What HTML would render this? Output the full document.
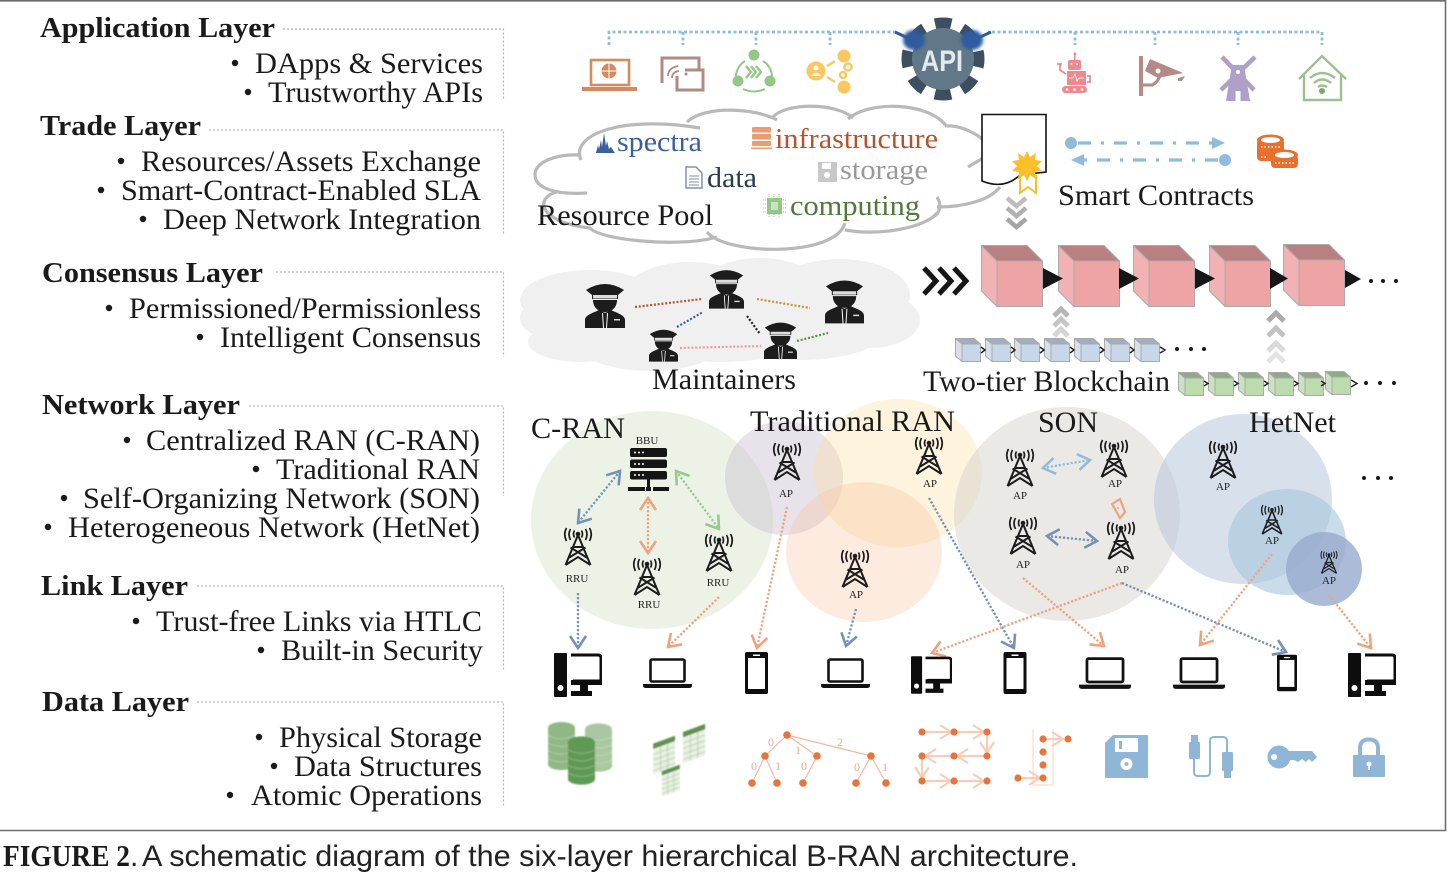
<!DOCTYPE html>
<html lang="en"><head><meta charset="utf-8"><title>Figure 2</title>
<style>
html,body{margin:0;padding:0;background:#fff}
svg{display:block}
text{font-family:"Liberation Serif",serif;fill:#1a1a1a}
.b{font-size:30px}
.t{font-size:29px;font-weight:bold}
.l{font-size:30px}
.s{font-size:11px;fill:#222}
</style></head><body>
<svg xmlns="http://www.w3.org/2000/svg" width="1456" height="872" viewBox="0 0 1456 872">
<defs>
<filter id="bl" x="-10%" y="-10%" width="120%" height="120%"><feGaussianBlur stdDeviation="0.8"/></filter>
<filter id="bl2" x="-30%" y="-30%" width="160%" height="160%"><feGaussianBlur stdDeviation="1.5"/></filter>
<marker id="mB" viewBox="0 0 16 19" refX="14" refY="9.5" markerWidth="16" markerHeight="19" markerUnits="userSpaceOnUse" orient="auto-start-reverse"><path d="M2 1.5L14 9.5L2 17.5" fill="none" stroke="#7392b5" stroke-width="2.6"/></marker>
<marker id="mO" viewBox="0 0 16 19" refX="14" refY="9.5" markerWidth="16" markerHeight="19" markerUnits="userSpaceOnUse" orient="auto-start-reverse"><path d="M2 1.5L14 9.5L2 17.5" fill="none" stroke="#f0a27c" stroke-width="2.6"/></marker>
<marker id="mG" viewBox="0 0 16 19" refX="14" refY="9.5" markerWidth="16" markerHeight="19" markerUnits="userSpaceOnUse" orient="auto-start-reverse"><path d="M2 1.5L14 9.5L2 17.5" fill="none" stroke="#95cb8c" stroke-width="2.6"/></marker>
<marker id="mL" viewBox="0 0 16 19" refX="14" refY="9.5" markerWidth="16" markerHeight="19" markerUnits="userSpaceOnUse" orient="auto-start-reverse"><path d="M2 1.5L14 9.5L2 17.5" fill="none" stroke="#8fbcdc" stroke-width="2.6"/></marker>
<marker id="mF" viewBox="0 0 14 16" refX="13" refY="8" markerWidth="14" markerHeight="16" markerUnits="userSpaceOnUse" orient="auto"><path d="M2 1L13 8L2 15" fill="none" stroke="#f8cdb6" stroke-width="2.2"/></marker>

<symbol id="tw" viewBox="0 0 28 38" overflow="visible"><g fill="none" stroke="#1c1c1c" stroke-width="2"><path d="M14 7L1.5 37M14 7L26.500 37M9.500 19H18.500M4.500 30L21.500 19.500M23.500 30L6.500 19.500M1.500 37L14 29L26.500 37"/><path stroke-width="1.700" d="M10.500 2.500Q8.500 6 10.500 9.500M17.500 2.500Q19.500 6 17.500 9.500M6.500 1Q3.500 6 6.500 12M21.500 1Q24.500 6 21.500 12M2.500 0Q-1 6 2.500 13M25.500 0Q29 6 25.500 13"/></g><circle cx="14" cy="6" r="2.300" fill="#1c1c1c"/></symbol>

<symbol id="of" viewBox="0 0 40 46"><path fill="#1c1c1c" d="M1 8Q20 -4 39 8L33 13V17H7V13Z"/><rect x="8" y="13" width="24" height="3.500" fill="#ddd"/><path fill="#1c1c1c" d="M8 18H32C32 26 26 30 20 30S8 26 8 18Z"/><path fill="#1c1c1c" d="M0 46V38C0 33 8 31 14 28L20 31L26 28C32 31 40 33 40 38V46Z"/><path d="M17.500 31L18.500 46M22.500 31L21.500 46" stroke="#fff" stroke-width="1"/><rect x="29" y="37" width="6" height="1.500" fill="#ddd"/></symbol>

<symbol id="pc" viewBox="0 0 48 44"><rect x="0" y="0" width="13" height="44" rx="1" fill="#0d0d0d"/><circle cx="6.500" cy="35" r="3" fill="#fff"/><path d="M17 2H44Q47 2 47 5V26Q47 28 45 28H19" fill="none" stroke="#0d0d0d" stroke-width="3"/><path d="M17 27H48V32H34V38H38V43H17V38H26V32H17Z" fill="#0d0d0d"/></symbol>

<symbol id="lp" viewBox="0 0 49 30"><rect x="7.500" y="1.500" width="34" height="22" rx="1.500" fill="#fff" fill-opacity=".9" stroke="#111" stroke-width="2.600"/><path d="M0 26H49V27.500Q49 30 46 30H3Q0 30 0 27.500Z" fill="#111"/></symbol>

<symbol id="ph" viewBox="0 0 23 42"><rect width="23" height="42" rx="2" fill="#0d0d0d"/><rect x="3" y="6" width="17" height="31" fill="#fff"/><rect x="8" y="2.500" width="7" height="1.500" fill="#fff"/></symbol>

<symbol id="bb" viewBox="0 0 41 43"><g fill="#151515"><rect x="2" y="0" width="37" height="9" rx="2"/><rect x="2" y="11.500" width="37" height="8.500" rx="2"/><rect x="2" y="23" width="37" height="8.500" rx="2"/><rect x="19" y="31" width="3" height="12"/><rect x="0" y="39" width="17" height="4"/><rect x="18" y="39" width="5" height="4"/><rect x="25" y="39" width="16" height="4"/></g><g fill="#fff"><circle cx="7" cy="4.500" r="1"/><circle cx="11" cy="4.500" r="1"/><circle cx="15" cy="4.500" r="1"/><circle cx="7" cy="16" r="1"/><circle cx="11" cy="16" r="1"/><circle cx="15" cy="16" r="1"/><circle cx="7" cy="27" r="1"/><circle cx="11" cy="27" r="1"/><circle cx="15" cy="27" r="1"/></g></symbol>

<symbol id="rc" viewBox="0 0 62 62"><path d="M.5 .5L16 16V61.500L.5 46Z" fill="#f2b1b2" stroke="#aaa"/><path d="M.5 .5H46L61.500 16H16Z" fill="#b98082" stroke="#aaa"/><rect x="16" y="16" width="45.500" height="45.500" fill="#eea3a5" stroke="#aaa"/></symbol>
<symbol id="bc" viewBox="0 0 26 25"><path d="M.5 1.500L7 7V24.500L.5 19Z" fill="#d5e0ec" stroke="#aaa"/><path d="M.5 1.500H19L25.500 7H7Z" fill="#9fafc0" stroke="#aaa"/><rect x="7" y="7" width="18.500" height="17.500" fill="#c7d6e8" stroke="#aaa"/></symbol>
<symbol id="gc" viewBox="0 0 26 25"><path d="M.5 1.500L7 7V24.500L.5 19Z" fill="#c9e2bf" stroke="#aaa"/><path d="M.5 1.500H19L25.500 7H7Z" fill="#8fa98a" stroke="#aaa"/><rect x="7" y="7" width="18.500" height="17.500" fill="#bcdcaf" stroke="#aaa"/></symbol>

<symbol id="cy" viewBox="0 0 28 50"><path d="M0 6V44C0 52 28 52 28 44V6Z" fill="currentColor"/><ellipse cx="14" cy="6" rx="14" ry="6" fill="currentColor"/><g fill="none" stroke="#fff" stroke-opacity=".28" stroke-width="1"><path d="M0 14Q14 21 28 14M0 22Q14 29 28 22M0 30Q14 37 28 30M0 38Q14 45 28 38"/></g></symbol>
<symbol id="tb" viewBox="0 0 26 44"><g transform="skewY(-20) translate(0,9.500)"><rect x="0" y="0" width="24" height="6" fill="#5f9150"/><rect x="0" y="6" width="24" height="28" fill="#e9f1e3"/><path d="M0 12H24M0 18H24M0 24H24M0 30H24M8 6V34M16 6V34" stroke="#b4cfa8" stroke-width="1"/></g></symbol>
</defs>

<rect width="1456" height="872" fill="#fff"/>
<path d="M0 .8H1445.500V830.500H0" fill="none" stroke="#6e6e6e" stroke-width="1.600"/>

<g fill="none" stroke="#b5b5b5" stroke-width="1.200" stroke-dasharray="2 2">
<path d="M283 29H503.500V100"/><path d="M209 130H503.500V235"/><path d="M276 272H503.500V357"/><path d="M249 406H503.500V496"/><path d="M197 586H503.500V670"/><path d="M197 702H503.500V807"/>
</g>

<text class="t" x="40" y="37" textLength="235" lengthAdjust="spacingAndGlyphs">Application Layer</text>
<text class="b" x="255" y="73" textLength="228" lengthAdjust="spacingAndGlyphs">DApps &amp; Services</text>
<text class="b" x="268" y="102" textLength="215" lengthAdjust="spacingAndGlyphs">Trustworthy APIs</text>
<text class="t" x="40" y="135" textLength="161" lengthAdjust="spacingAndGlyphs">Trade Layer</text>
<text class="b" x="141" y="171" textLength="340" lengthAdjust="spacingAndGlyphs">Resources/Assets Exchange</text>
<text class="b" x="121" y="200" textLength="360" lengthAdjust="spacingAndGlyphs">Smart-Contract-Enabled SLA</text>
<text class="b" x="163" y="229" textLength="318" lengthAdjust="spacingAndGlyphs">Deep Network Integration</text>
<text class="t" x="42" y="282" textLength="221" lengthAdjust="spacingAndGlyphs">Consensus Layer</text>
<text class="b" x="129" y="318" textLength="352" lengthAdjust="spacingAndGlyphs">Permissioned/Permissionless</text>
<text class="b" x="220" y="347" textLength="261" lengthAdjust="spacingAndGlyphs">Intelligent Consensus</text>
<text class="t" x="42" y="414" textLength="198" lengthAdjust="spacingAndGlyphs">Network Layer</text>
<text class="b" x="146" y="450" textLength="334" lengthAdjust="spacingAndGlyphs">Centralized RAN (C-RAN)</text>
<text class="b" x="276" y="479" textLength="204" lengthAdjust="spacingAndGlyphs">Traditional RAN</text>
<text class="b" x="83" y="508" textLength="397" lengthAdjust="spacingAndGlyphs">Self-Organizing Network (SON)</text>
<text class="b" x="68" y="537" textLength="412" lengthAdjust="spacingAndGlyphs">Heterogeneous Network (HetNet)</text>
<text class="t" x="41" y="595" textLength="147" lengthAdjust="spacingAndGlyphs">Link Layer</text>
<text class="b" x="156" y="631" textLength="326" lengthAdjust="spacingAndGlyphs">Trust-free Links via HTLC</text>
<text class="b" x="281" y="660" textLength="202" lengthAdjust="spacingAndGlyphs">Built-in Security</text>
<text class="t" x="42" y="711" textLength="147" lengthAdjust="spacingAndGlyphs">Data Layer</text>
<text class="b" x="279" y="747" textLength="203" lengthAdjust="spacingAndGlyphs">Physical Storage</text>
<text class="b" x="294" y="776" textLength="188" lengthAdjust="spacingAndGlyphs">Data Structures</text>
<text class="b" x="251" y="805" textLength="231" lengthAdjust="spacingAndGlyphs">Atomic Operations</text>
<g fill="#1a1a1a">
<circle cx="235" cy="63" r="3.200"/><circle cx="248" cy="92" r="3.200"/>
<circle cx="121" cy="161" r="3.200"/><circle cx="101" cy="190" r="3.200"/><circle cx="143" cy="219" r="3.200"/>
<circle cx="109" cy="308" r="3.200"/><circle cx="200" cy="337" r="3.200"/>
<circle cx="127" cy="440" r="3.200"/><circle cx="256" cy="469" r="3.200"/><circle cx="64" cy="498" r="3.200"/><circle cx="48" cy="527" r="3.200"/>
<circle cx="136" cy="621" r="3.200"/><circle cx="261" cy="650" r="3.200"/>
<circle cx="259" cy="737" r="3.200"/><circle cx="274" cy="766" r="3.200"/><circle cx="230" cy="795" r="3.200"/>
</g>

<path d="M609 45V32H1322V45M683 32V45M756 32V45M830 32V45M1075 32V45M1155 32V45M1238 32V45" fill="none" stroke="#8fbcdc" stroke-width="2.800" stroke-dasharray="3 2.500"/>
<rect x="898" y="16" width="90" height="86" fill="#fff"/>
<circle cx="943" cy="59" r="33" fill="none" stroke="#3d4f5f" stroke-width="17" stroke-dasharray="15 10.900" stroke-dashoffset="7.500"/>
<circle cx="943" cy="59" r="31" fill="#607888"/>
<g filter="url(#bl2)" fill="#2e5c9e"><ellipse cx="914" cy="40" rx="11" ry="10"/><ellipse cx="972" cy="40" rx="11" ry="10"/></g>
<path d="M895 32L908 38M991 32L978 38" stroke="#2e5c9e" stroke-width="3"/>
<text x="942" y="71" text-anchor="middle" textLength="42" lengthAdjust="spacingAndGlyphs" style="font-family:'Liberation Sans',sans-serif;font-weight:bold;font-size:30px;fill:#e4e9ec">API</text>

<g>
<rect x="591" y="60" width="38" height="25" fill="#fff" stroke="#d58a5e" stroke-width="2.600"/>
<path d="M582 87H637V91H582Z" fill="#d58a5e"/>
<circle cx="609" cy="71" r="7.500" fill="#d58a5e"/><path d="M601 71H617M609 63V79" stroke="#fff" stroke-width="1"/>
</g>
<g fill="none" stroke="#b08a84" stroke-width="3"><path d="M662 83V58H699V70"/><path d="M677 76V90H703V70H685"/><path d="M668 76Q668 68 678 66M672 78Q672 72 679 71" stroke-width="1.800"/></g>
<circle cx="686" cy="74" r="1.500" fill="#b08a84"/>
<g fill="none" stroke="#93c788" stroke-width="2"><path d="M745 61A19 19 0 0 0 736 76M763 61A19 19 0 0 1 772 76M743 89Q754 94 765 89"/><path d="M746 66L751 72L746 78M751 66L756 72L751 78M756 66L761 72L756 78" stroke-width="2.300"/></g>
<g fill="#93c788"><circle cx="754" cy="55" r="5.500"/><circle cx="738" cy="81" r="5.500"/><circle cx="770" cy="81" r="5.500"/></g>
<g fill="#fcc75f"><circle cx="816" cy="71" r="9.500"/><circle cx="844" cy="56" r="6.500"/><circle cx="844" cy="87" r="6.500"/></g>
<path d="M827 66L835 61M827 77L835 82" stroke="#fcc75f" stroke-width="2.500"/>
<circle cx="816" cy="68" r="2.500" fill="#fff"/><path d="M811 76Q816 70 821 76Z" fill="#fff"/>
<circle cx="848" cy="67" r="3.500" fill="none" stroke="#fcc75f" stroke-width="2.500"/><circle cx="843" cy="75" r="3" fill="none" stroke="#fcc75f" stroke-width="2.500"/>

<g fill="#ec8a8f"><rect x="1068" y="60" width="13" height="10" rx="2"/><rect x="1067" y="71" width="19" height="14"/><rect x="1062" y="86" width="25" height="7" rx="3.500"/><rect x="1074" y="54" width="1.500" height="6"/><circle cx="1075" cy="54" r="1.500"/></g>
<g fill="#fff"><circle cx="1071.500" cy="64" r="1"/><circle cx="1077" cy="64" r="1"/><circle cx="1067" cy="89.500" r="1.300"/><circle cx="1074.500" cy="89.500" r="1.300"/><circle cx="1082" cy="89.500" r="1.300"/></g>
<path d="M1060 64V70L1066 74M1057 64H1062M1087 76H1090V82M1087 82H1091" fill="none" stroke="#ec8a8f" stroke-width="1.800"/>
<path d="M1069 78H1073L1075 74L1077 81L1079 78H1084" fill="none" stroke="#fff" stroke-width=".8"/>
<path d="M1141 56V96" stroke="#b48a84" stroke-width="4"/>
<path d="M1143 85H1152Q1157 83 1160 76" fill="none" stroke="#b48a84" stroke-width="3"/>
<path d="M1150 59L1183 73L1158 78L1145 71Z" fill="#b48a84"/><circle cx="1158" cy="71" r="2.500" fill="#fff"/>
<path d="M1178 78L1185 76L1182 81L1178 81Z" fill="#b48a84"/>
<g stroke="#b09fc7" stroke-width="4.500" fill="none"><path d="M1222 57L1254 90M1255 57L1221 90"/></g>
<path d="M1232 65H1244L1250 101H1226Z" fill="#b09fc7"/><circle cx="1238" cy="72" r="2" fill="#fff"/><rect x="1235.500" y="91" width="5" height="10" fill="#fff"/>
<g fill="none" stroke="#9dc08f" stroke-width="2.400"><path d="M1299 79L1322 56L1346 79"/><path d="M1304 75V100H1341V75"/><path d="M1310 78Q1322 68 1335 78M1314 83Q1322 76 1331 83M1318 87Q1322 84 1327 87"/></g>
<circle cx="1322" cy="91" r="3" fill="#7fa872"/>

<g fill="none" stroke="#b9b9b9" stroke-width="3.200">
<path d="M587 193C555 195 535 188 535 175C535 162 555 154 580 155"/>
<path d="M581 160C570 135 620 115 700 128"/>
<path d="M687 122C705 105 755 108 777 120"/>
<path d="M773 117C785 103 835 102 853 118"/>
<path d="M848 119C870 100 930 102 947 127"/>
<path d="M947 126C965 125 990 140 990 152"/>
<path d="M968 167L983 158"/>
<path d="M937 207C965 207 990 200 1000 187"/>
<path d="M937 197C942 205 940 213 933 217"/>
<path d="M845 230C880 236 925 228 937 213"/>
<path d="M707 232C725 255 835 258 845 223"/>
<path d="M557 192C535 197 537 222 590 228C600 240 680 248 717 237"/>
</g>
<text style="font-size:29px;fill:#3a5f9f" x="617" y="151" textLength="85" lengthAdjust="spacingAndGlyphs">spectra</text>
<text style="font-size:29px;fill:#b4532e" x="775" y="148" textLength="163" lengthAdjust="spacingAndGlyphs">infrastructure</text>
<text style="font-size:29px;fill:#999" x="840" y="179" textLength="88" lengthAdjust="spacingAndGlyphs">storage</text>
<text style="font-size:29px;fill:#2c3a50" x="707" y="187" textLength="50" lengthAdjust="spacingAndGlyphs">data</text>
<text style="font-size:29px;fill:#4f7a3a" x="790" y="215" textLength="130" lengthAdjust="spacingAndGlyphs">computing</text>
<text class="l" x="537" y="225" textLength="176" lengthAdjust="spacingAndGlyphs">Resource Pool</text>
<path d="M596 153L598 145L599 149L601 140L602 147L604 133L606 146L607 141L609 149L611 147L615 153Z" fill="#3a5f9f"/>
<g fill="#ee9b72"><rect x="752" y="127" width="19" height="5.500" rx="1"/><rect x="752" y="134" width="19" height="5.500" rx="1"/><rect x="752" y="141" width="19" height="5" rx="1"/><rect x="751" y="147.500" width="21" height="1.500"/></g>
<path d="M686 167H696L702 173V188H686Z" fill="#fff" stroke="#7d93ab" stroke-width="1.500"/><path d="M689 176H699M689 179H699M689 182H699M689 185H699" stroke="#7d93ab"/>
<path d="M818 162H837V182H818Z" fill="#c8c8c8"/><rect x="822" y="163" width="9" height="6" fill="#fff"/><circle cx="827" cy="175" r="3" fill="#fff"/>
<path d="M763 200H786M763 204H786M763 208H786M763 212H786M769 194V218M774 194V218M779 194V218" stroke="#93c788" stroke-dasharray="1 1" fill="none"/>
<rect x="767" y="198" width="15" height="16" fill="#93c788"/><rect x="771" y="202" width="7" height="8" fill="#c9e3c0"/>

<path d="M982 114.500H1046V172L1020 175Q1004 190 982 181Z" fill="#fff" stroke="#111" stroke-width="1.600"/>
<path d="M1020 177V193L1028 187L1036 193V175" fill="#fff" stroke="#f9c02d" stroke-width="2"/>
<polygon points="1027,151 1030,157 1036,153 1035,160 1042,161 1037,166 1042,171 1035,172 1036,179 1030,175 1027,181 1024,175 1018,179 1019,172 1012,171 1017,166 1012,161 1019,160 1018,153 1024,157" fill="#f9c02d"/>
<g fill="none" stroke-width="4.500"><path d="M1007 198L1016.500 206L1026 198" stroke="#bdbdbd"/><path d="M1007 208L1016.500 216L1026 208" stroke="#b0b0b0"/><path d="M1007 219L1016.500 227L1026 219" stroke="#a5a5a5"/></g>
<g fill="none" stroke="#8fbcdc" stroke-width="3.200" stroke-dasharray="13 10 3 10"><path d="M1078 143H1212"/><path d="M1218 160H1084"/></g>
<g fill="#8fbcdc"><circle cx="1071" cy="143" r="6"/><circle cx="1225" cy="160" r="6"/><path d="M1212 137L1225 143L1212 149Z"/><path d="M1084 154L1071 160L1084 166Z"/></g>
<g fill="#e8702f">
<rect x="1257" y="139" width="27" height="22" rx="4"/><ellipse cx="1270.500" cy="140" rx="13.500" ry="5.500"/>
<rect x="1271" y="155" width="27" height="13" rx="4"/><ellipse cx="1284.500" cy="155" rx="13.500" ry="5.500"/>
</g>
<ellipse cx="1270.500" cy="140" rx="9.500" ry="3" fill="#fff"/><ellipse cx="1284.500" cy="155" rx="9.500" ry="3" fill="#fff"/>
<path d="M1261 147H1280M1261 157H1268M1275 163H1295" stroke="#fff" stroke-width="1.400" stroke-dasharray="1.500 2"/>
<text class="l" x="1058" y="205" textLength="196" lengthAdjust="spacingAndGlyphs">Smart Contracts</text>

<g fill="#f0f0f0">
<ellipse cx="590" cy="300" rx="70" ry="30"/><ellipse cx="560" cy="318" rx="40" ry="22"/><ellipse cx="580" cy="342" rx="52" ry="20"/><ellipse cx="650" cy="345" rx="70" ry="26"/>
<ellipse cx="690" cy="300" rx="70" ry="38"/><ellipse cx="760" cy="300" rx="70" ry="42"/><ellipse cx="840" cy="295" rx="70" ry="36"/><ellipse cx="870" cy="320" rx="50" ry="28"/><ellipse cx="800" cy="335" rx="80" ry="25"/><ellipse cx="720" cy="330" rx="100" ry="32"/>
</g>
<g fill="none" stroke-width="2.200" stroke-dasharray="2 1.800">
<path d="M635 307L702 299" stroke="#b5532f"/><path d="M677 327L703 312" stroke="#3a5f9f"/><path d="M747 316L760 334" stroke="#222"/><path d="M757 299L810 308" stroke="#c9922f"/><path d="M680 348L761 346" stroke="#ef9a9f"/><path d="M797 341L828 333" stroke="#5a8f3f"/>
</g>
<use href="#of" x="585" y="282" width="40" height="46"/>
<use href="#of" x="709" y="268" width="35" height="41"/>
<use href="#of" x="825" y="278" width="39" height="46"/>
<use href="#of" x="649" y="328" width="29" height="34"/>
<use href="#of" x="764" y="321" width="33" height="38"/>
<text class="l" x="652" y="389" textLength="144" lengthAdjust="spacingAndGlyphs">Maintainers</text>

<path d="M924 268L936 281L924 294M939 268L951 281L939 294M954 268L966 281L954 294" fill="none" stroke="#161616" stroke-width="5"/>
<use href="#rc" x="981" y="245" width="62" height="62"/>
<use href="#rc" x="1058" y="245" width="62" height="62"/>
<use href="#rc" x="1133" y="245" width="62" height="62"/>
<use href="#rc" x="1209" y="245" width="62" height="62"/>
<use href="#rc" x="1283" y="244" width="62" height="62"/>
<g fill="#161616">
<path d="M1043 268L1063 278.500L1043 289Z"/><path d="M1119 268L1139 278.500L1119 289Z"/><path d="M1195 268L1215 278.500L1195 289Z"/><path d="M1270 268L1288 278.500L1270 289Z"/><path d="M1345 270L1361 279L1345 288Z"/>
<circle cx="1371" cy="281" r="2"/><circle cx="1383" cy="281" r="2"/><circle cx="1396" cy="281" r="2"/>
</g>
<g fill="none" stroke-width="5">
<path d="M1054 316L1061 309L1068 316" stroke="#b5b5b5"/><path d="M1054 326L1061 319L1068 326" stroke="#c5c5c5"/><path d="M1054 336L1061 329L1068 336" stroke="#d5d5d5"/>
<path d="M1268 321L1276 313L1284 321" stroke="#aaa"/><path d="M1268 336L1276 328L1284 336" stroke="#c2c2c2"/><path d="M1268 351L1276 343L1284 351" stroke="#dadada"/>
<path d="M1268 362L1276 354L1284 362" stroke="#e4e4e4"/>
</g>
<use href="#bc" x="955" y="337" width="26" height="25"/><use href="#bc" x="985" y="337" width="26" height="25"/><use href="#bc" x="1014" y="337" width="26" height="25"/><use href="#bc" x="1044" y="337" width="26" height="25"/><use href="#bc" x="1074" y="337" width="26" height="25"/><use href="#bc" x="1104" y="337" width="26" height="25"/><use href="#bc" x="1134" y="337" width="26" height="25"/>
<path d="M981 347L985 350L981 353M1011 347L1015 350L1011 353M1040 347L1044 350L1040 353M1070 347L1074 350L1070 353M1100 347L1104 350L1100 353M1130 347L1134 350L1130 353M1160 347L1165 350L1160 353" fill="none" stroke="#222" stroke-width="1.500"/>
<g fill="#1a1a1a"><circle cx="1177" cy="349" r="2"/><circle cx="1191" cy="349" r="2"/><circle cx="1204" cy="349" r="2"/></g>
<text class="l" x="923" y="391" textLength="247" lengthAdjust="spacingAndGlyphs">Two-tier Blockchain</text>
<use href="#gc" x="1178" y="371" width="26" height="25"/><use href="#gc" x="1208" y="371" width="26" height="25"/><use href="#gc" x="1238" y="371" width="26" height="25"/><use href="#gc" x="1268" y="371" width="26" height="25"/><use href="#gc" x="1298" y="371" width="26" height="25"/><use href="#gc" x="1325" y="370" width="26" height="25"/>
<path d="M1204 381L1208 383.500L1204 386M1234 381L1238 383.500L1234 386M1264 381L1268 383.500L1264 386M1294 381L1298 383.500L1294 386M1321 381L1325 383.500L1321 386M1351 380L1357 383.500L1351 387" fill="none" stroke="#222" stroke-width="1.500"/>
<g fill="#1a1a1a"><circle cx="1366" cy="383" r="2"/><circle cx="1380" cy="383" r="2"/><circle cx="1394" cy="383" r="2"/></g>

<ellipse cx="652" cy="520" rx="121" ry="109" fill="#d4e4c8" fill-opacity=".45"/>
<ellipse cx="784" cy="478" rx="59" ry="57" fill="#c9bdd0" fill-opacity=".42"/>
<ellipse cx="898" cy="473" rx="84" ry="74" fill="#fbdb98" fill-opacity=".34"/>
<ellipse cx="864" cy="552" rx="78" ry="70" fill="#f9c19c" fill-opacity=".32"/>
<ellipse cx="1067" cy="514" rx="113" ry="107" fill="#d6d4cf" fill-opacity=".52"/>
<ellipse cx="1243" cy="499" rx="89" ry="85" fill="#b8c6dc" fill-opacity=".55"/>
<ellipse cx="1287" cy="542" rx="59" ry="53" fill="#a7c8dc" fill-opacity=".62"/>
<ellipse cx="1324" cy="569" rx="38" ry="37" fill="#97aace" fill-opacity=".8"/>

<text class="l" x="531" y="438" textLength="94" lengthAdjust="spacingAndGlyphs">C-RAN</text>
<text class="l" x="750" y="431" textLength="205" lengthAdjust="spacingAndGlyphs">Traditional RAN</text>
<text class="l" x="1038" y="432" textLength="60" lengthAdjust="spacingAndGlyphs">SON</text>
<text class="l" x="1249" y="432" textLength="87" lengthAdjust="spacingAndGlyphs">HetNet</text>
<g fill="#1a1a1a"><circle cx="1364" cy="478" r="2"/><circle cx="1378" cy="478" r="2"/><circle cx="1391" cy="478" r="2"/></g>

<use href="#bb" x="628" y="448" width="41" height="43"/>
<text class="s" x="647" y="444" text-anchor="middle">BBU</text>
<use href="#tw" x="564" y="528" width="28" height="38"/><text class="s" x="577" y="582" text-anchor="middle">RRU</text>
<use href="#tw" x="633" y="558" width="28" height="38"/><text class="s" x="649" y="608" text-anchor="middle">RRU</text>
<use href="#tw" x="705" y="534" width="28" height="38"/><text class="s" x="718" y="586" text-anchor="middle">RRU</text>
<use href="#tw" x="773" y="443" width="28" height="38"/><text class="s" x="786" y="497" text-anchor="middle">AP</text>
<use href="#tw" x="915" y="437" width="28" height="38"/><text class="s" x="930" y="487" text-anchor="middle">AP</text>
<use href="#tw" x="841" y="550" width="28" height="38"/><text class="s" x="856" y="598" text-anchor="middle">AP</text>
<use href="#tw" x="1006" y="449" width="28" height="38"/><text class="s" x="1020" y="499" text-anchor="middle">AP</text>
<use href="#tw" x="1100" y="440" width="28" height="38"/><text class="s" x="1115" y="487" text-anchor="middle">AP</text>
<use href="#tw" x="1009" y="517" width="28" height="38"/><text class="s" x="1023" y="568" text-anchor="middle">AP</text>
<use href="#tw" x="1107" y="522" width="28" height="38"/><text class="s" x="1122" y="573" text-anchor="middle">AP</text>
<use href="#tw" x="1209" y="441" width="28" height="38"/><text class="s" x="1223" y="490" text-anchor="middle">AP</text>
<use href="#tw" x="1261" y="505" width="22" height="30"/><text class="s" x="1272" y="544" text-anchor="middle">AP</text>
<use href="#tw" x="1320" y="551" width="18" height="23"/><text class="s" x="1329" y="584" text-anchor="middle">AP</text>

<g fill="none" stroke-width="2.300" stroke-dasharray="2.200 1.800">
<path d="M620 471L578 523" stroke="#7392b5" marker-start="url(#mB)" marker-end="url(#mB)"/>
<path d="M648 498V553" stroke="#f0a27c" marker-start="url(#mO)" marker-end="url(#mO)"/>
<path d="M676 471L719 529" stroke="#95cb8c" marker-start="url(#mG)" marker-end="url(#mG)"/>
<path d="M578 593V648" stroke="#7392b5" marker-end="url(#mB)"/>
<path d="M719 597L668 647" stroke="#f0a27c" marker-end="url(#mO)"/>
<path d="M787 507L757 648" stroke="#f0a27c" marker-end="url(#mO)"/>
<path d="M856 609L846 646" stroke="#7392b5" marker-end="url(#mB)"/>
<path d="M929 498L1014 648" stroke="#7392b5" marker-end="url(#mB)"/>
<path d="M1122 583L932 653" stroke="#f0a27c" marker-end="url(#mO)"/>
<path d="M1122 583L1286 652" stroke="#7392b5" marker-end="url(#mB)"/>
<path d="M1023 578L1104 646" stroke="#f0a27c" marker-end="url(#mO)"/>
<path d="M1272 554L1200 645" stroke="#f0a27c" marker-end="url(#mO)"/>
<path d="M1329 595L1371 648" stroke="#f0a27c" marker-end="url(#mO)"/>
<path d="M1043 468L1090 460" stroke="#8fbcdc" marker-start="url(#mL)" marker-end="url(#mL)"/>
<path d="M1047 536L1097 541" stroke="#7392b5" marker-start="url(#mB)" marker-end="url(#mB)"/>
</g>
<path d="M1112 504L1120 499L1125 512L1120 518Z" fill="none" stroke="#f0a27c" stroke-width="2.200"/><circle cx="1118" cy="508" r="1" fill="#f0a27c"/>

<use href="#pc" x="554" y="653" width="48" height="44"/>
<use href="#lp" x="643" y="658" width="49" height="30"/>
<use href="#ph" x="745" y="652" width="23" height="42"/>
<use href="#lp" x="821" y="658" width="49" height="30"/>
<use href="#pc" x="911" y="656" width="41" height="38" preserveAspectRatio="none"/>
<use href="#ph" x="1003" y="652" width="24" height="42" preserveAspectRatio="none"/>
<use href="#lp" x="1079" y="657" width="52" height="32" preserveAspectRatio="none"/>
<use href="#lp" x="1173" y="657" width="52" height="32" preserveAspectRatio="none"/>
<use href="#ph" x="1277" y="654" width="20" height="38" preserveAspectRatio="none"/>
<use href="#pc" x="1348" y="653" width="48" height="44"/>

<g filter="url(#bl)">
<use href="#cy" x="548" y="722" width="27" height="48" style="color:#8fb884" preserveAspectRatio="none"/>
<use href="#cy" x="585" y="722" width="27" height="51" style="color:#a9c7a0" preserveAspectRatio="none"/>
<use href="#cy" x="568" y="735" width="27" height="51" style="color:#5f9a55" preserveAspectRatio="none"/>
<use href="#tb" x="653" y="735" width="24" height="40" preserveAspectRatio="none"/>
<use href="#tb" x="683" y="720" width="24" height="47" preserveAspectRatio="none"/>
<use href="#tb" x="660" y="764" width="23" height="33" preserveAspectRatio="none"/>
</g>
<g stroke="#f5b99d" stroke-width="1.200" fill="none"><path d="M787 735L765 756M787 735L817 756M787 735L871 756M765 756L752 783M765 756L777 783M817 756L803 783M871 756L856 783M871 756L886 783"/></g>
<g fill="#e8743b"><circle cx="787" cy="735" r="3.800"/><circle cx="765" cy="756" r="3.800"/><circle cx="817" cy="756" r="3.800"/><circle cx="871" cy="756" r="3.800"/><circle cx="752" cy="783" r="3.800"/><circle cx="777" cy="783" r="3.800"/><circle cx="803" cy="783" r="3.800"/><circle cx="856" cy="783" r="3.800"/><circle cx="886" cy="783" r="3.800"/></g>
<g style="font-size:12px"><text style="fill:#f2a987" x="768" y="746">0</text><text style="fill:#f2a987" x="795" y="754">1</text><text style="fill:#f2a987" x="837" y="746">2</text><text style="fill:#f2a987" x="751" y="770">0</text><text style="fill:#f2a987" x="775" y="770">1</text><text style="fill:#f2a987" x="801" y="770">0</text><text style="fill:#f2a987" x="854" y="771">0</text><text style="fill:#f2a987" x="882" y="771">1</text></g>
<g fill="none" stroke="#f8cdb6" stroke-width="2.200">
<path d="M922 732H951" marker-end="url(#mF)"/><path d="M954 732H984" marker-end="url(#mF)"/><path d="M987 732V753" marker-end="url(#mF)"/>
<path d="M987 756H957" marker-end="url(#mF)"/><path d="M954 756H925" marker-end="url(#mF)"/><path d="M922 756V778" marker-end="url(#mF)"/>
<path d="M922 781H951" marker-end="url(#mF)"/><path d="M954 781H984" marker-end="url(#mF)"/>
</g>
<g fill="#e8743b"><circle cx="922" cy="732" r="3.600"/><circle cx="954" cy="732" r="3.600"/><circle cx="987" cy="732" r="3.600"/><circle cx="922" cy="756" r="3.600"/><circle cx="954" cy="756" r="3.600"/><circle cx="987" cy="756" r="3.600"/><circle cx="922" cy="781" r="3.600"/><circle cx="954" cy="781" r="3.600"/><circle cx="987" cy="781" r="3.600"/></g>
<path d="M1033 729V785H1053V729" fill="none" stroke="#fbdccb" stroke-width="1.200"/>
<path d="M1043 739H1063" fill="none" stroke="#f8cdb6" stroke-width="2.200" marker-end="url(#mF)"/><path d="M1018 778H1040" fill="none" stroke="#f8cdb6" stroke-width="2.200" marker-end="url(#mF)"/>
<g fill="#e8743b"><circle cx="1043" cy="739" r="3.600"/><circle cx="1043" cy="752" r="3.600"/><circle cx="1043" cy="765" r="3.600"/><circle cx="1043" cy="778" r="3.600"/><circle cx="1068" cy="739" r="3.600"/><circle cx="1018" cy="778" r="3.600"/></g>
<path d="M1113 735H1147Q1148 735 1148 736V777Q1148 778 1147 778H1106Q1105 778 1105 777V743Z" fill="#8fb6d6"/>
<rect x="1115" y="738" width="23" height="14" fill="#fff"/><rect x="1119" y="741" width="3" height="8" fill="#8fb6d6"/>
<circle cx="1126.500" cy="764" r="6" fill="#fff"/><circle cx="1126.500" cy="764" r="2" fill="#8fb6d6"/>
<g fill="#8fb6d6"><rect x="1189" y="742" width="11" height="17" rx="1.500"/><rect x="1191" y="735" width="7" height="7"/><rect x="1222" y="752" width="11" height="19" rx="1.500"/><rect x="1224" y="771" width="7" height="7"/></g>
<path d="M1194 759V772Q1194 776 1198 776H1206Q1210 776 1210 772V741Q1210 737 1214 737H1223Q1227 737 1227 741V752" fill="none" stroke="#8fb6d6" stroke-width="2"/>
<circle cx="1279" cy="757" r="11.500" fill="#8fb6d6"/><circle cx="1274" cy="757" r="3" fill="#fff"/>
<path d="M1288 751H1312L1317 757L1312 762L1309 759L1306 762L1302 759L1298 762L1294 760H1288Z" fill="#8fb6d6"/>
<path d="M1360 756V748Q1360 739.500 1369 739.500Q1378 739.500 1378 748V756" fill="none" stroke="#8fb6d6" stroke-width="4"/>
<rect x="1353" y="755" width="32" height="22" rx="1" fill="#8fb6d6"/><circle cx="1369" cy="764" r="2.500" fill="#fff"/><rect x="1368" y="765" width="2" height="5" fill="#fff"/>

<text x="3" y="866" textLength="127" lengthAdjust="spacingAndGlyphs" style="font-size:31px;font-weight:bold;font-family:'Liberation Serif',serif">FIGURE 2</text>
<text x="130" y="866" style="font-size:30px;font-family:'Liberation Sans',sans-serif;fill:#222">.</text>
<text x="142" y="866" textLength="936" lengthAdjust="spacingAndGlyphs" style="font-size:30px;font-family:'Liberation Sans',sans-serif;fill:#222">A schematic diagram of the six-layer hierarchical B-RAN architecture.</text>
</svg>
</body></html>
